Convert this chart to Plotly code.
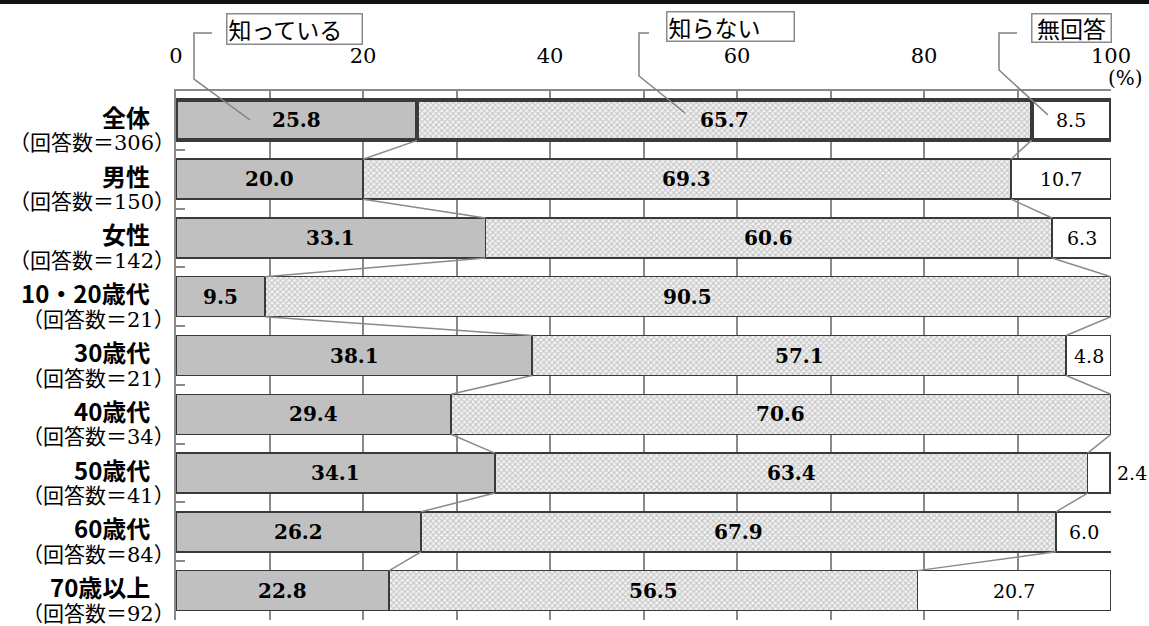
import plotly.graph_objects as go

# ---------------- data ----------------
categories = ["全体", "男性", "女性", "10・20歳代", "30歳代", "40歳代", "50歳代", "60歳代", "70歳以上"]
counts = ["（回答数＝306）", "（回答数＝150）", "（回答数＝142）", "（回答数＝21）", "（回答数＝21）",
          "（回答数＝34）", "（回答数＝41）", "（回答数＝84）", "（回答数＝92）"]
know = [25.8, 20.0, 33.1, 9.5, 38.1, 29.4, 34.1, 26.2, 22.8]
dont_know = [65.7, 69.3, 60.6, 90.5, 57.1, 70.6, 63.4, 67.9, 56.5]
no_answer = [8.5, 10.7, 6.3, 0.0, 4.8, 0.0, 2.4, 6.0, 20.7]
series_names = ["知っている", "知らない", "無回答"]
x_tickvals = [0, 10, 20, 30, 40, 50, 60, 70, 80, 90, 100]
x_ticktext = ["0", "", "20", "", "40", "", "60", "", "80", "", "100"]
unit_label = "(%)"

# ---------------- geometry ----------------
W, H = 1149, 626
L, R, T, B = 176, 38, 91, 6
PW, PH = W - L - R, H - T - B
BAR_W = 0.68


def px(xp):
    return (xp - L) / PW


def py(yp):
    return 1 - (yp - T) / PH


GRID = "#8a8a8a"
EDGE = "#3a3a3a"
NUM_FONT = "DejaVu Serif"
JP_FONT = "Noto Sans CJK JP"

ypos = list(range(len(categories)))
lw = [4 if i == 0 else 1.5 for i in ypos]

fig = go.Figure()
fig.add_trace(go.Bar(y=ypos, x=know, orientation="h", width=BAR_W, name=series_names[0],
                     marker=dict(color="#c0c0c0", line=dict(color=EDGE, width=lw)),
                     hoverinfo="skip"))
fig.add_trace(go.Bar(y=ypos, x=dont_know, orientation="h", width=BAR_W, name=series_names[1],
                     marker=dict(color="#eeeeee", line=dict(color=EDGE, width=lw),
                                 pattern=dict(shape="x", fgcolor="#939393", bgcolor="#f2f2f2",
                                              size=4, solidity=0.45)),
                     hoverinfo="skip"))
fig.add_trace(go.Bar(y=ypos, x=no_answer, orientation="h", width=BAR_W, name=series_names[2],
                     marker=dict(color="#ffffff", line=dict(color=EDGE, width=lw)),
                     hoverinfo="skip"))

shapes = []
annotations = []

# series (connector) lines
for i in range(len(categories) - 1):
    c1a, c1b = know[i], know[i + 1]
    c2a, c2b = know[i] + dont_know[i], know[i + 1] + dont_know[i + 1]
    for xa, xb in ((c1a, c1b), (c2a, c2b)):
        shapes.append(dict(type="line", xref="x", yref="y", x0=xa, x1=xb,
                           y0=i + BAR_W / 2, y1=i + 1 - BAR_W / 2,
                           line=dict(color=GRID, width=1.5), layer="above"))

# value labels
for i in ypos:
    k, d, n = know[i], dont_know[i], no_answer[i]
    annotations.append(dict(x=k / 2, y=i, xref="x", yref="y", text=f"{k:.1f}", showarrow=False,
                            font=dict(family=NUM_FONT, size=20, color="#000", weight="bold")))
    annotations.append(dict(x=k + d / 2, y=i, xref="x", yref="y", text=f"{d:.1f}", showarrow=False,
                            font=dict(family=NUM_FONT, size=20, color="#000", weight="bold")))
    if n > 0:
        if n >= 4:
            annotations.append(dict(x=k + d + n / 2, y=i, xref="x", yref="y", text=f"{n:.1f}",
                                    showarrow=False, font=dict(family=NUM_FONT, size=19, color="#000")))
        else:
            annotations.append(dict(x=100, y=i, xref="x", yref="y", text=f"{n:.1f}", xanchor="left",
                                    xshift=4, showarrow=False,
                                    font=dict(family=NUM_FONT, size=19, color="#000")))

# category labels
for i in ypos:
    annotations.append(dict(x=px(152), y=i, xref="paper", yref="y", text=categories[i],
                            xanchor="right", yanchor="middle", yshift=4, showarrow=False,
                            font=dict(family=JP_FONT, size=24, color="#000", weight="bold")))
    annotations.append(dict(x=px(177), y=i, xref="paper", yref="y", text=counts[i],
                            xanchor="right", yanchor="middle", yshift=-23, showarrow=False,
                            font=dict(family=NUM_FONT + ", " + JP_FONT, size=21, color="#000")))

# unit label
annotations.append(dict(x=px(1125), y=py(78), xref="paper", yref="paper", text=unit_label,
                        xanchor="center", yanchor="middle", showarrow=False,
                        font=dict(family=NUM_FONT, size=20, color="#000")))

# callout boxes with leader lines
callouts = [
    (series_names[0], 226, 363, 13, 45, [(212, 33), (194, 33), (194, 79), (250, 120)], "left"),
    (series_names[1], 666, 795, 11, 42, [(649, 33), (639, 33), (639, 76), (685, 113)], "left"),
    (series_names[2], 1031, 1112, 13, 43, [(1017, 33), (999, 33), (999, 70), (1048, 115)], "center"),
]
for text, bx0, bx1, by0, by1, pts, al in callouts:
    annotations.append(dict(x=px((bx0 + bx1) / 2), y=py((by0 + by1) / 2), xref="paper", yref="paper",
                            text=text, showarrow=False, xanchor="center", yanchor="middle",
                            width=bx1 - bx0 - 5, height=by1 - by0 - 5, align=al,
                            bordercolor="#8a8a8a", borderwidth=1.5, borderpad=1, bgcolor="#ffffff",
                            font=dict(family=JP_FONT, size=23, color="#000")))
    path = "M " + " L ".join(f"{px(a):.5f},{py(b):.5f}" for a, b in pts)
    shapes.append(dict(type="path", xref="paper", yref="paper", path=path,
                       line=dict(color="#808080", width=1.5)))

# dark band at top of figure
shapes.append(dict(type="rect", xref="paper", yref="paper", x0=px(-5), x1=px(W + 5),
                   y0=py(4), y1=py(-5), fillcolor="#111111", line=dict(width=0), layer="above"))

fig.update_layout(
    width=W, height=H,
    margin=dict(l=L, r=R, t=T, b=B, autoexpand=False),
    barmode="stack",
    showlegend=False,
    plot_bgcolor="#ffffff",
    paper_bgcolor="#ffffff",
    shapes=shapes,
    annotations=annotations,
    xaxis=dict(range=[0, 100], side="top", tickvals=x_tickvals, ticktext=x_ticktext,
               showgrid=True, gridcolor=GRID, gridwidth=1.5, zeroline=False,
               showline=True, linecolor=GRID, linewidth=1.5, ticks="",
               ticklabelstandoff=18, automargin=False,
               tickfont=dict(family=NUM_FONT, size=21, color="#000")),
    yaxis=dict(range=[len(categories) - 0.5, -0.5], showgrid=False, zeroline=False,
               tickvals=[i - 0.5 for i in range(len(categories) + 1)], showticklabels=False,
               ticks="inside", ticklen=9, tickcolor=GRID, tickwidth=1.5,
               showline=True, linecolor=GRID, linewidth=1.5, automargin=False),
)

fig.write_html("out.html", config={"displayModeBar": False},
               post_script="document.body.style.margin='0px';document.body.style.overflow='hidden';")
